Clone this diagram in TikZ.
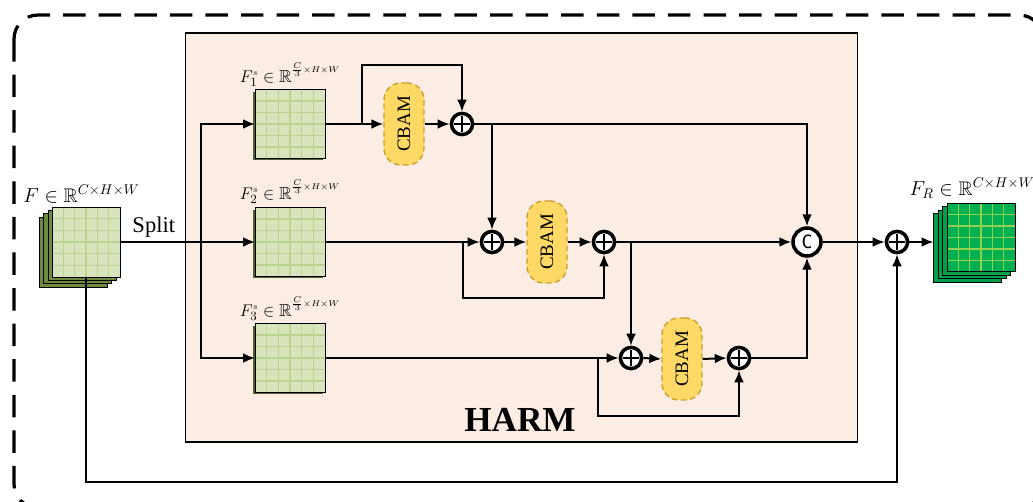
\documentclass[tikz,border=0pt]{standalone}
\usepackage{amssymb}
\usepackage{fontspec}
\setmainfont{Liberation Serif}
\newfontfamily\monof{DejaVu Sans Mono}
\usetikzlibrary{arrows.meta,calc}
\definecolor{harmbg}{HTML}{FCEDE4}
\definecolor{fmapg}{HTML}{D8E4BC}
\definecolor{fgrid}{HTML}{BCD38F}
\definecolor{fback}{HTML}{6E8B3D}
\definecolor{fshadow}{HTML}{4F6228}
\definecolor{outg}{HTML}{00B050}
\definecolor{outgrid}{HTML}{92D050}
\definecolor{outback}{HTML}{00A048}
\definecolor{cbamfill}{HTML}{FFD966}
\definecolor{cbamdraw}{HTML}{C9A030}
\newcommand{\splitsup}{\raisebox{2.6pt}{$\scriptscriptstyle\frac{C}{3}\times H\times W$}}
\tikzset{
  gridsix/.style={path picture={
    \foreach \k in {1,...,5}{
      \draw[#1,line width=1pt]
        ($(path picture bounding box.south west)!\k/6!(path picture bounding box.south east)$) --
        ($(path picture bounding box.north west)!\k/6!(path picture bounding box.north east)$);
      \draw[#1,line width=1pt]
        ($(path picture bounding box.south west)!\k/6!(path picture bounding box.north west)$) --
        ($(path picture bounding box.south east)!\k/6!(path picture bounding box.north east)$);
    }}},
  fmap/.style={draw=black, line width=0.6pt, inner sep=0pt, outer sep=0pt,
    minimum width=1.75cm, minimum height=1.72cm},
  fmapfront/.style={fmap, fill=fmapg, gridsix=fgrid},
  fmapback/.style={fmap, fill=fback},
  fmapshadow/.style={fmap, draw=none, fill=fshadow},
  outfront/.style={fmap, fill=outg, gridsix=outgrid},
  outbackst/.style={fmap, fill=outback},
  cbam/.style={draw=cbamdraw, fill=cbamfill, line width=1pt, dash pattern=on 4pt off 2.5pt,
    rounded corners=0.42cm, minimum width=1cm, minimum height=2.05cm, inner sep=0pt,
    font=\fontsize{13.5}{14}\selectfont},
  plusnode/.style={circle, draw, line width=2.5pt, fill=white, minimum size=0.53cm, inner sep=0pt,
    path picture={\draw[line width=1.6pt]
      (path picture bounding box.center) +(-0.21cm,0) -- +(0.21cm,0)
      (path picture bounding box.center) +(0,-0.21cm) -- +(0,0.21cm);}},
  catnode/.style={circle, draw, line width=2.5pt, fill=white, minimum size=0.7cm, inner sep=0pt,
    font=\monof\fontsize{13}{13}\selectfont},
  conn/.style={line width=1.4pt, -{Latex[length=8.5pt,width=7pt]}},
  lab/.style={anchor=base, inner sep=0pt},
  slab/.style={anchor=base, inner sep=0pt, font=\fontsize{12.5}{14}\selectfont},
}
\begin{document}
\begin{tikzpicture}[x=0.025cm,y=-0.025cm]
\useasboundingbox (0,0) rectangle (1033,501);
% dashed outer border
\begin{scope}
\clip (0,0) rectangle (1033,501);
\draw[line width=2.3pt, dash pattern=on 16pt off 9.3pt, rounded corners=0.6cm] (14,15) rectangle (1043,508);
\end{scope}
% HARM box
\node[draw=black, line width=0.8pt, fill=harmbg, minimum width=16.775cm, minimum height=10.225cm,
  inner sep=0pt] (harm) at (521.5,237.5) {};
\node[font=\bfseries\fontsize{25}{25}\selectfont] (harml) at (520,420) {HARM};

% input stack
\node[fmapback, minimum width=1.7cm, minimum height=1.75cm] (in3) at (73,252) {};
\node[fmapback, minimum width=1.7cm, minimum height=1.75cm] (in2) at (77.5,248.5) {};
\node[fmapback, minimum width=1.7cm, minimum height=1.75cm] (in1) at (82,245) {};
\node[fmapfront, minimum width=1.7cm, minimum height=1.75cm] (in) at (86,242) {};
\node[lab, font=\fontsize{14}{16}\selectfont] (inl) at (81.5,202) {$F\in\mathbb{R}^{C\times H\times W}$};

% split feature maps
\node[fmapshadow] (f1s) at (288,126) {};
\node[fmapfront] (f1) at (290,124) {};
\node[fmapshadow] (f2s) at (288,244) {};
\node[fmapfront] (f2) at (290,242) {};
\node[fmapshadow] (f3s) at (288,360) {};
\node[fmapfront] (f3) at (290,358) {};
\node[slab] (f1l) at (290,82) {$F_1^{\scriptscriptstyle s}\in\mathbb{R}^{\splitsup}$};
\node[slab] (f2l) at (290,199) {$F_2^{\scriptscriptstyle s}\in\mathbb{R}^{\splitsup}$};
\node[slab] (f3l) at (290,316) {$F_3^{\scriptscriptstyle s}\in\mathbb{R}^{\splitsup}$};

% CBAM blocks
\node[cbam] (cb1) at (404,124) {\rotatebox{90}{CBAM}};
\node[cbam] (cb2) at (547,242) {\rotatebox{90}{CBAM}};
\node[cbam] (cb3) at (682,359) {\rotatebox{90}{CBAM}};

% adders and concat
\node[plusnode] (p1) at (462,124) {};
\node[plusnode] (p2) at (492,242) {};
\node[plusnode] (p3) at (604,242) {};
\node[plusnode] (p4) at (631,358) {};
\node[plusnode] (p5) at (739,358) {};
\node[catnode] (cc) at (807,242) {C};
\node[plusnode] (p6) at (897,242) {};

% output stack
\node[outbackst, minimum width=1.7cm] (o3) at (967.5,248) {};
\node[outbackst, minimum width=1.7cm] (o2) at (972,244.5) {};
\node[outbackst, minimum width=1.7cm] (o1) at (976.5,241) {};
\node[outfront, minimum width=1.7cm] (out) at (981,237.5) {};
\node[lab, font=\fontsize{14}{16}\selectfont] (outl) at (972,195) {$F_R\in\mathbb{R}^{C\times H\times W}$};

% helper coordinates
\coordinate (sp) at (201,242);
\coordinate (b1) at (362,124);
\coordinate (b2) at (463,242);
\coordinate (b3) at (598,358);
\coordinate (bot) at (0,482);

% split
\draw[conn] (in.east) -- (f2.west) node[pos=0.25, above=3pt, inner sep=0pt, font=\fontsize{16}{18}\selectfont] (splitl) {Split};
\draw[conn] (sp) |- (f1.west);
\draw[conn] (sp) |- (f3.west);

% row 1
\draw[conn] (f1.east) -- (cb1.west);
\draw[conn] (cb1.east) -- (p1.west);
\draw[conn] (b1) -- ++(0,-59) -| (p1.north);
\draw[conn] (p1.east) -| (cc.north);
\draw[conn] (p2 |- p1) -- (p2.north);

% row 2
\draw[conn] (f2.east) -- (p2.west);
\draw[conn] (b2) -- ++(0,56) -| (p3.south);
\draw[conn] (p2.east) -- (cb2.west);
\draw[conn] (cb2.east) -- (p3.west);
\draw[conn] (p3.east) -- (cc.west);
\draw[conn] (p4 |- p3) -- (p4.north);

% row 3
\draw[conn] (f3.east) -- (p4.west);
\draw[conn] (b3) -- ++(0,58) -| (p5.south);
\draw[conn] (p4.east) -- (cb3.west);
\draw[conn] (cb3.east) -- (p5.west);
\draw[conn] (p5.east) -| (cc.south);

% output
\draw[conn] (cc.east) -- (p6.west);
\draw[conn] (p6.east) -- (p6 -| o3.west);
\draw[conn] (in.south) -- (in.south |- bot) -| (p6.south);
\end{tikzpicture}
\end{document}
